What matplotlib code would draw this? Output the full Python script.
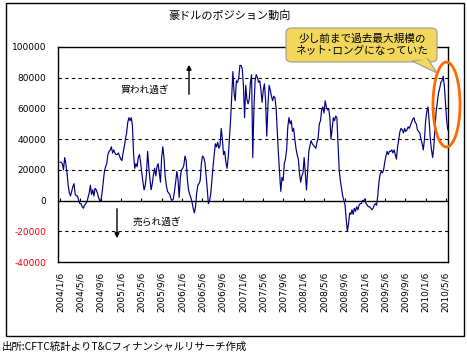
import matplotlib
matplotlib.use("Agg")
import matplotlib.pyplot as plt
import matplotlib.dates as mdates
from matplotlib.patches import FancyBboxPatch, Polygon, Ellipse, Rectangle
import pandas as pd
import numpy as np

plt.rcParams['font.family'] = ['Noto Sans CJK JP', 'DejaVu Sans']

title = "豪ドルのポジション動向"
source = "出所:CFTC統計よりT&Cフィナンシャルリサーチ作成"
note_buy = "買われ過ぎ"
note_sell = "売られ過ぎ"
callout = "少し前まで過去最大規模の\nネット･ロングになっていた"

start_date = "2004-01-06"
# weekly net positions (thousand contracts)
net_k = [
    25, 25, 24, 20, 28, 24, 18, 10, 5, 3,
    6, 9, 11, 4, 3, 3, 0, -2, -2, -4,
    -5, -3, -2, -1, 2, 5, 10, 4, 7, 3,
    8, 7, 5, 2, 0, 0, 5, 12, 19, 22,
    24, 30, 32, 33, 35, 31, 33, 31, 30, 30,
    31, 29, 27, 26, 31, 35, 40, 44, 51, 54,
    52, 54, 49, 30, 21, 24, 22, 28, 30, 25,
    18, 12, 7, 10, 17, 32, 22, 14, 7, 11,
    17, 21, 16, 22, 24, 18, 12, 28, 35, 28,
    16, 10, 6, 5, 4, 1, 0, 1, 6, 12,
    19, 14, 2, 15, 20, 21, 23, 29, 26, 14,
    7, 4, 2, -1, -5, -8, -4, 5, 10, 11,
    13, 24, 29, 28, 25, 17, 8, -2, 0, 4,
    13, 22, 30, 37, 35, 38, 34, 36, 47, 40,
    30, 32, 25, 21, 28, 40, 52, 68, 84, 70,
    65, 78, 77, 80, 88, 88, 86, 75, 54, 75,
    66, 63, 66, 77, 82, 28, 60, 78, 82, 80,
    77, 78, 72, 64, 72, 76, 65, 42, 62, 75,
    72, 68, 65, 68, 67, 60, 45, 30, 18, 6,
    15, 13, 24, 27, 33, 48, 54, 50, 52, 45,
    47, 40, 34, 30, 27, 18, 12, 16, 18, 28,
    18, 7, 19, 32, 36, 39, 37, 36, 35, 34,
    38, 41, 50, 52, 59, 61, 57, 65, 61, 59,
    60, 54, 40, 47, 54, 52, 55, 54, 37, 20,
    13, 8, 3, 0, -3, -12, -20, -15, -8, -9,
    -6, -9, -5, -7, -4, -6, -3, -2, -2, 0,
    0, 1, -2, -3, -4, -4, -5, -6, -5, -3,
    -2, -3, 3, 12, 17, 19, 18, 20, 25, 29,
    32, 30, 32, 32, 33, 31, 33, 30, 27, 35,
    40, 45, 47, 46, 44, 47, 45, 46, 48, 47,
    49, 51, 53, 54, 51, 50, 46, 45, 44, 40,
    37, 33, 40, 52, 58, 61, 52, 40, 33, 28,
    35, 48, 58, 64, 70, 73, 77, 78, 81, 75,
    63, 52, 46,
]
net = np.array(net_k) * 1000
dates = pd.date_range(start_date, periods=len(net), freq="7D")

yticks = [-40000, -20000, 0, 20000, 40000, 60000, 80000, 100000]
grid_levels = [80000, 60000, 40000, 20000, -20000]
tick_dates = pd.date_range("2004-01-06", "2010-05-06", freq=pd.DateOffset(months=4))

W, H = 467, 356
fig = plt.figure(figsize=(W / 100, H / 100), dpi=100)
fig.patch.set_facecolor("white")

def fx(px):
    return px / W

def fy(py):
    return 1 - py / H

L, R, T, B = 58, 448, 47, 262
ax = fig.add_axes([fx(L), fy(B), (R - L) / W, (B - T) / H])

ax.plot(dates, net, color="#000080", lw=0.85, zorder=3)

for g in grid_levels:
    ax.axhline(g, color="black", lw=0.8, dashes=(3, 3), zorder=1)
ax.axhline(0, color="black", lw=1.0, zorder=2)

ax.set_ylim(-40000, 100000)
ax.set_yticks(yticks)
ax.set_yticklabels([str(v) for v in yticks])
for lab, v in zip(ax.get_yticklabels(), yticks):
    lab.set_color("red" if v < 0 else "black")
    lab.set_fontfamily("DejaVu Sans")
ax.tick_params(axis="y", length=0, pad=8.5, labelsize=6.5)

ax.set_xlim(pd.Timestamp("2003-12-25"), pd.Timestamp("2010-05-19"))
ax.set_xticks(tick_dates)
ax.set_xticklabels([f"{d.year}/{d.month}/{d.day}" for d in tick_dates],
                   rotation=90, fontsize=6.5, family="DejaVu Sans")
ax.tick_params(axis="x", length=0, pad=7)

# tick marks on the zero line
sec = ax.secondary_xaxis(40000 / 140000)
sec.set_xticks(mdates.date2num(tick_dates))
sec.set_xticklabels([])
sec.tick_params(axis="x", direction="in", length=2.5, width=0.8, color="black")
sec.spines["bottom"].set_visible(False)

for s in ax.spines.values():
    s.set_color("black")
    s.set_linewidth(1.0)

# outer frame
fig.patches.append(Rectangle((fx(5.5), fy(336)), fx(458), (336 - 2.5) / H,
                             transform=fig.transFigure, fill=False,
                             edgecolor="black", lw=1.0))

fig.text(fx(230), fy(15), title, ha="center", va="center", fontsize=8)
fig.text(fx(2), fy(347), source, ha="left", va="center", fontsize=7.5)

fig.text(fx(145), fy(90), note_buy, ha="center", va="center", fontsize=7)
fig.text(fx(157), fy(222), note_sell, ha="center", va="center", fontsize=7)

fig.add_artist(plt.Annotation("", xy=(fx(189), fy(62)), xytext=(fx(189), fy(97)),
                              xycoords="figure fraction", textcoords="figure fraction",
                              arrowprops=dict(arrowstyle="-|>", color="black", lw=1,
                                              mutation_scale=7)))
fig.add_artist(plt.Annotation("", xy=(fx(117), fy(241)), xytext=(fx(117), fy(206)),
                              xycoords="figure fraction", textcoords="figure fraction",
                              arrowprops=dict(arrowstyle="-|>", color="black", lw=1,
                                              mutation_scale=7)))

# callout
box = FancyBboxPatch((fx(286), fy(62)), fx(437 - 286), (62 - 28) / H,
                     boxstyle="round,pad=0,rounding_size=0.013",
                     transform=fig.transFigure, facecolor="#F3D75C",
                     edgecolor="#9a9a9a", lw=0.8, zorder=5)
fig.patches.append(box)
ptr = Polygon([(fx(412), fy(61)), (fx(437), fy(73)), (fx(428), fy(59))],
              closed=True, transform=fig.transFigure, facecolor="#F3D75C",
              edgecolor="#9a9a9a", lw=0.8, zorder=5)
fig.patches.append(ptr)
cover = Polygon([(fx(413), fy(60.2)), (fx(427), fy(58.5)), (fx(427), fy(60.2))],
                closed=True, transform=fig.transFigure, facecolor="#F3D75C",
                edgecolor="none", zorder=6)
fig.patches.append(cover)
fig.text(fx(362), fy(45), callout, ha="center", va="center", fontsize=7.7,
         linespacing=1.25, zorder=7)

ell = Ellipse((fx(446.5), fy(104.5)), fx(27), 85 / H, transform=fig.transFigure,
              fill=False, edgecolor="#FF6A00", lw=2, zorder=8)
fig.patches.append(ell)

fig.savefig("out.png", dpi=100, facecolor="white")
